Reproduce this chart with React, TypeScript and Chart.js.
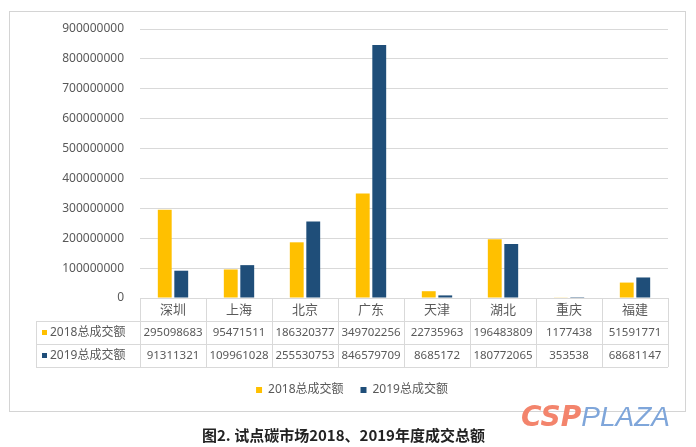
import React, { useEffect, useRef } from "react";
import { Chart, registerables } from "chart.js";

Chart.register(...registerables);

const categories = ["深圳", "上海", "北京", "广东", "天津", "湖北", "重庆", "福建"];
const series2018 = [295098683, 95471511, 186320377, 349702256, 22735963, 196483809, 1177438, 51591771];
const series2019 = [91311321, 109961028, 255530753, 846579709, 8685172, 180772065, 353538, 68681147];
const seriesLabels = ["2018总成交额", "2019总成交额"];
const yMin = 0;
const yMax = 900000000;
const yStep = 100000000;
const caption = "图2. 试点碳市场2018、2019年度成交总额";
const watermarkA = "CSP";
const watermarkB = "PLAZA";

const seriesColors = ["#FFC000", "#1F4E79"];
const GRID = "#D9D9D9";
const TEXT = "#595959";
const FONT = '"Noto Sans", "Noto Sans CJK SC", sans-serif';

const tablePlugin = {
  id: "dataTable",
  afterDraw(chart: any) {
    const ctx = chart.ctx;
    const xs = chart.scales.x;
    const left = xs.left;
    const right = xs.right;
    const top = chart.chartArea.bottom;
    const labels: string[] = chart.data.labels;
    const n = labels.length;
    const colW = (right - left) / n;
    const headerLeft = 36;
    const rowH = 23;
    const r1 = top + rowH;
    const r2 = r1 + rowH;
    const r3 = r2 + rowH;
    const px = (v: number) => Math.round(v) + 0.5;
    ctx.save();
    ctx.strokeStyle = GRID;
    ctx.lineWidth = 1;
    ctx.beginPath();
    ctx.moveTo(left, px(top));
    ctx.lineTo(right, px(top));
    [r1, r2, r3].forEach((y) => {
      ctx.moveTo(headerLeft, px(y));
      ctx.lineTo(right, px(y));
    });
    for (let k = 0; k <= n; k++) {
      const x = px(left + k * colW);
      ctx.moveTo(x, top);
      ctx.lineTo(x, r3);
    }
    ctx.moveTo(px(headerLeft), r1);
    ctx.lineTo(px(headerLeft), r3);
    ctx.stroke();
    ctx.textBaseline = "middle";
    // category row
    ctx.fillStyle = TEXT;
    ctx.textAlign = "center";
    ctx.font = `13px ${FONT}`;
    labels.forEach((lab, j) => {
      ctx.fillText(lab, xs.getPixelForTick(j), top + rowH / 2 + 1);
    });
    chart.data.datasets.forEach((ds: any, i: number) => {
      const cy = r1 + i * rowH + rowH / 2;
      ctx.fillStyle = ds.backgroundColor;
      ctx.fillRect(headerLeft + 6, Math.round(cy - 3), 5, 5);
      ctx.fillStyle = TEXT;
      ctx.font = `12px ${FONT}`;
      ctx.textAlign = "left";
      ctx.fillText(ds.label, headerLeft + 14, cy);
      ctx.textAlign = "center";
      ctx.font = `11.5px ${FONT}`;
      ds.data.forEach((v: number, j: number) => {
        ctx.fillText(String(v), xs.getPixelForTick(j), cy);
      });
    });
    ctx.restore();
  },
};

export default function App() {
  const canvasRef = useRef<HTMLCanvasElement | null>(null);

  useEffect(() => {
    if (!canvasRef.current) return;
    const chart = new Chart(canvasRef.current, {
      type: "bar",
      data: {
        labels: categories,
        datasets: [
          {
            label: seriesLabels[0],
            data: series2018,
            backgroundColor: seriesColors[0],
            borderWidth: 0,
            categoryPercentage: 0.5,
            barPercentage: 0.84,
          },
          {
            label: seriesLabels[1],
            data: series2019,
            backgroundColor: seriesColors[1],
            borderWidth: 0,
            categoryPercentage: 0.5,
            barPercentage: 0.84,
          },
        ],
      },
      options: {
        animation: false,
        responsive: false,
        maintainAspectRatio: false,
        layout: { padding: { left: 36, right: 28, top: 29, bottom: 41 } },
        plugins: {
          tooltip: { enabled: false },
          legend: {
            position: "bottom",
            labels: {
              boxWidth: 6,
              boxHeight: 6,
              padding: 17,
              color: TEXT,
              font: { size: 12, family: FONT },
            },
          },
        },
        scales: {
          x: {
            grid: { display: false, drawTicks: false },
            border: { display: false },
            ticks: { display: false },
            afterFit: (scale: any) => {
              scale.height = 69;
            },
          },
          y: {
            min: yMin,
            max: yMax,
            grid: { color: GRID, drawTicks: false },
            border: { display: false },
            ticks: {
              stepSize: yStep,
              color: TEXT,
              padding: 16,
              font: { size: 12, family: FONT },
              callback: (v: any) => String(v),
            },
            afterFit: (scale: any) => {
              scale.width = 104;
            },
          },
        },
      },
      plugins: [tablePlugin],
    } as any);
    return () => chart.destroy();
  }, []);

  return (
    <div
      style={{
        position: "fixed",
        left: 0,
        top: 0,
        width: 696,
        height: 447,
        background: "#ffffff",
        overflow: "hidden",
      }}
    >
      <div
        style={{
          position: "absolute",
          left: 9,
          top: 11,
          width: 675,
          height: 399,
          border: "1px solid #D4D4D4",
        }}
      />
      <canvas
        ref={canvasRef}
        width={696}
        height={447}
        style={{ position: "absolute", left: 0, top: 0, width: 696, height: 447 }}
      />
      <div
        style={{
          position: "absolute",
          left: 202,
          top: 425,
          lineHeight: "20px",
          fontSize: 15,
          fontWeight: 700,
          color: "#222222",
          whiteSpace: "nowrap",
          fontFamily: '"Noto Sans CJK SC", sans-serif',
        }}
      >
        {caption}
      </div>
      <div
        style={{
          position: "absolute",
          left: 521,
          top: 401,
          lineHeight: "32px",
          fontSize: 28,
          fontStyle: "italic",
          whiteSpace: "nowrap",
        }}
      >
        <span style={{ color: "#F3846C", fontWeight: 900, fontFamily: '"DejaVu Sans", sans-serif' }}>
          {watermarkA}
        </span>
        <span style={{ color: "#7FA6DA", fontWeight: 400, fontFamily: '"Liberation Sans", sans-serif' }}>
          {watermarkB}
        </span>
      </div>
    </div>
  );
}
